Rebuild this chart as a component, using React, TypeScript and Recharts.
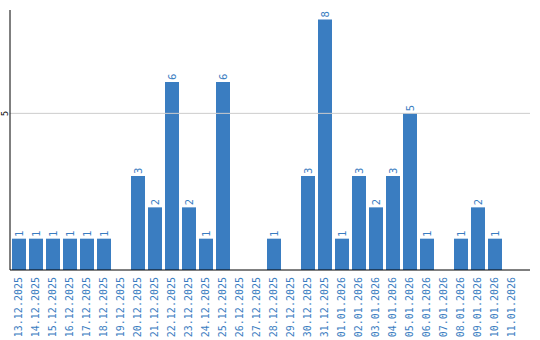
import { BarChart, Bar, XAxis, YAxis, ReferenceLine, LabelList } from "recharts";

const DATES = [
  "13.12.2025", "14.12.2025", "15.12.2025", "16.12.2025", "17.12.2025",
  "18.12.2025", "19.12.2025", "20.12.2025", "21.12.2025", "22.12.2025",
  "23.12.2025", "24.12.2025", "25.12.2025", "26.12.2025", "27.12.2025",
  "28.12.2025", "29.12.2025", "30.12.2025", "31.12.2025", "01.01.2026",
  "02.01.2026", "03.01.2026", "04.01.2026", "05.01.2026", "06.01.2026",
  "07.01.2026", "08.01.2026", "09.01.2026", "10.01.2026", "11.01.2026",
];

const COUNTS = [1, 1, 1, 1, 1, 1, 0, 3, 2, 6, 2, 1, 6, 0, 0, 1, 0, 3, 8, 1, 3, 2, 3, 5, 1, 0, 1, 2, 1, 0];

const Y_TICKS = [5];

const BLUE = "#3a7dc1";

const data = DATES.map((d, i) => ({ date: d, count: COUNTS[i] }));

const DateTick = (props: any) => {
  const { x, y, payload } = props;
  return (
    <text
      x={0}
      y={0}
      transform={`translate(${x},${y - 1}) rotate(-90)`}
      textAnchor="end"
      dy="0.35em"
      fill={BLUE}
      fontSize={10}
      fontFamily="DejaVu Sans Mono"
    >
      {payload.value}
    </text>
  );
};

const YTick = (props: any) => {
  const { y, payload } = props;
  return (
    <text
      x={0}
      y={0}
      transform={`translate(5,${y}) rotate(-90)`}
      textAnchor="middle"
      dy="0.35em"
      fill="#000"
      fontSize={8}
      fontFamily="DejaVu Sans"
    >
      {payload.value}
    </text>
  );
};

const ValueLabel = (props: any) => {
  const { x, y, width, value } = props;
  if (!value) return null;
  const cx = x + width / 2;
  return (
    <text
      x={0}
      y={0}
      transform={`translate(${cx},${y - 2}) rotate(-90)`}
      textAnchor="start"
      dy="0.35em"
      fill={BLUE}
      fontSize={10}
      fontFamily="DejaVu Sans"
    >
      {value}
    </text>
  );
};

export default function App() {
  return (
    <div style={{ position: "absolute", left: 0, top: 0, background: "#fff" }}>
      <BarChart
        width={540}
        height={340}
        data={data}
        margin={{ top: 10, right: 10, bottom: 0, left: 0 }}
        barSize={14}
      >
        <ReferenceLine y={5} stroke="#cccccc" />
        <XAxis
          dataKey="date"
          interval={0}
          height={70}
          tickLine={false}
          axisLine={{ stroke: "#000" }}
          tick={<DateTick />}
          padding={{ left: 0, right: 10 }}
        />
        <YAxis
          width={10}
          domain={[0, 8.3]}
          ticks={Y_TICKS}
          tickLine={false}
          axisLine={{ stroke: "#000" }}
          tick={<YTick />}
        />
        <Bar dataKey="count" fill={BLUE} isAnimationActive={false}>
          <LabelList dataKey="count" content={<ValueLabel />} />
        </Bar>
      </BarChart>
    </div>
  );
}
